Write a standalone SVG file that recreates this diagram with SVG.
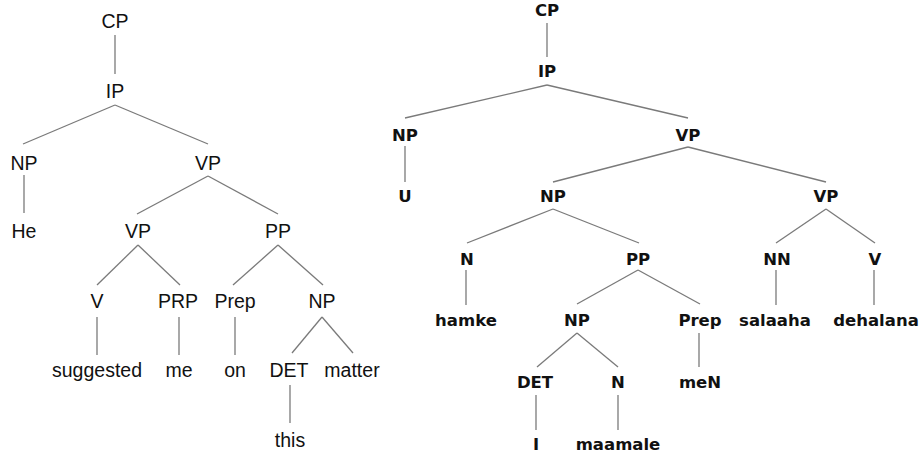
<svg xmlns="http://www.w3.org/2000/svg" width="924" height="453" viewBox="0 0 924 453">
<style>
.l{font-family:"Liberation Sans",Arial,sans-serif;font-size:19.5px;fill:#111;text-anchor:middle}
.r{font-family:"DejaVu Sans",Verdana,sans-serif;font-weight:bold;font-size:16.5px;fill:#111;text-anchor:middle}
#edges line{stroke:#7a7a7a;stroke-width:1.3}
</style>
<rect width="924" height="453" fill="#fff"/>
<g id="edges">
<line x1="115" y1="35" x2="115" y2="74"/>
<line x1="115" y1="105" x2="23" y2="144"/>
<line x1="115" y1="105" x2="208" y2="144"/>
<line x1="24" y1="175" x2="24" y2="213"/>
<line x1="208" y1="176" x2="137" y2="214"/>
<line x1="208" y1="176" x2="278" y2="214"/>
<line x1="138" y1="245" x2="97" y2="285"/>
<line x1="138" y1="245" x2="180" y2="285"/>
<line x1="278" y1="245" x2="233" y2="285"/>
<line x1="278" y1="245" x2="323" y2="285"/>
<line x1="97" y1="317" x2="97" y2="355"/>
<line x1="179" y1="317" x2="179" y2="355"/>
<line x1="235" y1="317" x2="235" y2="355"/>
<line x1="322" y1="317" x2="292" y2="353"/>
<line x1="322" y1="317" x2="353" y2="353"/>
<line x1="290" y1="385" x2="290" y2="423"/>
<line x1="547" y1="23" x2="547" y2="57"/>
<line x1="547" y1="85" x2="405" y2="118"/>
<line x1="547" y1="85" x2="688" y2="118"/>
<line x1="405" y1="146" x2="405" y2="182"/>
<line x1="688" y1="147" x2="553" y2="182"/>
<line x1="688" y1="147" x2="826" y2="182"/>
<line x1="553" y1="209" x2="467" y2="243"/>
<line x1="553" y1="209" x2="639" y2="243"/>
<line x1="826" y1="209" x2="776" y2="243"/>
<line x1="826" y1="209" x2="875" y2="243"/>
<line x1="466" y1="270" x2="466" y2="305"/>
<line x1="638" y1="270" x2="577" y2="304"/>
<line x1="638" y1="270" x2="700" y2="304"/>
<line x1="776" y1="270" x2="776" y2="305"/>
<line x1="874" y1="270" x2="874" y2="305"/>
<line x1="577" y1="333" x2="537" y2="367"/>
<line x1="577" y1="333" x2="618" y2="367"/>
<line x1="699" y1="333" x2="699" y2="367"/>
<line x1="536" y1="395" x2="536" y2="430"/>
<line x1="618" y1="395" x2="618" y2="430"/>
</g>
<g id="l-cp"><text class="l" x="115" y="28">CP</text></g>
<g id="l-ip"><text class="l" x="115" y="98">IP</text></g>
<g id="l-np"><text class="l" x="24" y="170">NP</text></g>
<g id="l-vp"><text class="l" x="208" y="170">VP</text></g>
<g id="l-he"><text class="l" x="24" y="238">He</text></g>
<g id="l-vp2"><text class="l" x="138" y="238">VP</text></g>
<g id="l-pp"><text class="l" x="278" y="238">PP</text></g>
<g id="l-v"><text class="l" x="97" y="308">V</text></g>
<g id="l-prp"><text class="l" x="178" y="308">PRP</text></g>
<g id="l-prep"><text class="l" x="235" y="308">Prep</text></g>
<g id="l-np2"><text class="l" x="322" y="308">NP</text></g>
<g id="l-suggested"><text class="l" x="97" y="377">suggested</text></g>
<g id="l-me"><text class="l" x="179" y="377">me</text></g>
<g id="l-on"><text class="l" x="235" y="377">on</text></g>
<g id="l-det"><text class="l" x="289" y="377">DET</text></g>
<g id="l-matter"><text class="l" x="352" y="377">matter</text></g>
<g id="l-this"><text class="l" x="290" y="447">this</text></g>
<g id="r-cp"><text class="r" x="547" y="16">CP</text></g>
<g id="r-ip"><text class="r" x="547" y="77">IP</text></g>
<g id="r-np"><text class="r" x="405" y="141">NP</text></g>
<g id="r-vp"><text class="r" x="688" y="141">VP</text></g>
<g id="r-u"><text class="r" x="405" y="202">U</text></g>
<g id="r-np2"><text class="r" x="553" y="202">NP</text></g>
<g id="r-vp2"><text class="r" x="826" y="202">VP</text></g>
<g id="r-n"><text class="r" x="467" y="265">N</text></g>
<g id="r-pp"><text class="r" x="638" y="265">PP</text></g>
<g id="r-nn"><text class="r" x="777" y="265">NN</text></g>
<g id="r-v"><text class="r" x="875" y="265">V</text></g>
<g id="r-hamke"><text class="r" x="466" y="326">hamke</text></g>
<g id="r-np3"><text class="r" x="577" y="326">NP</text></g>
<g id="r-prep"><text class="r" x="700" y="326">Prep</text></g>
<g id="r-salaaha"><text class="r" x="775" y="326">salaaha</text></g>
<g id="r-dehalana"><text class="r" x="876" y="326">dehalana</text></g>
<g id="r-det"><text class="r" x="535" y="388">DET</text></g>
<g id="r-n2"><text class="r" x="618" y="388">N</text></g>
<g id="r-men"><text class="r" x="700" y="388">meN</text></g>
<g id="r-i"><text class="r" x="536" y="450">I</text></g>
<g id="r-maamale"><text class="r" x="618" y="450">maamale</text></g>
</svg>
